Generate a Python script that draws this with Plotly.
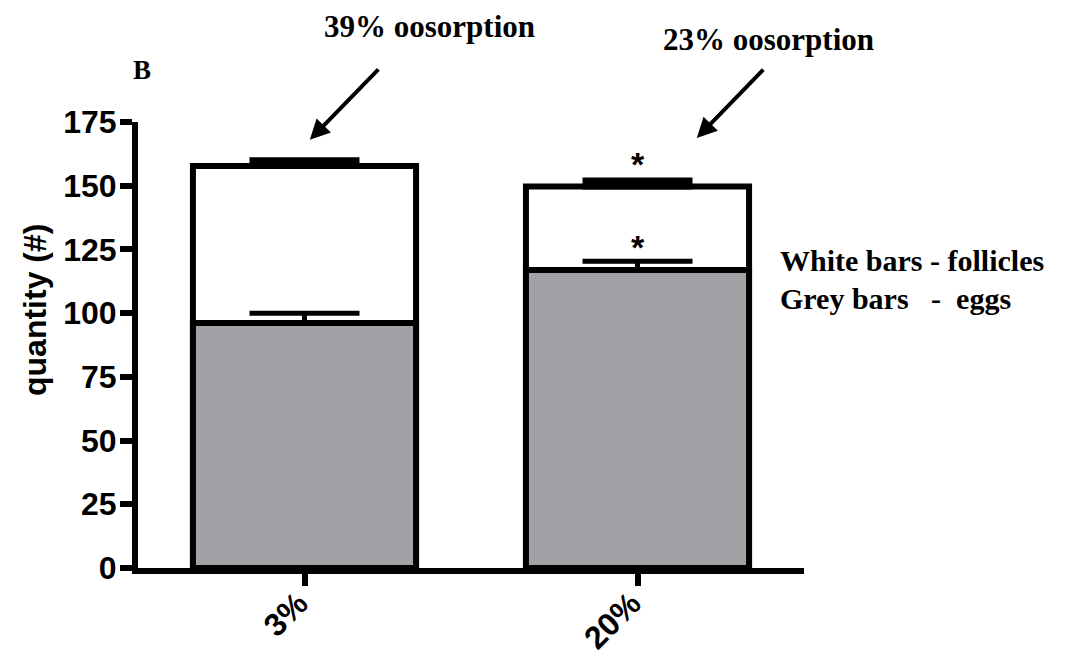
import plotly.graph_objects as go

categories = ["3%", "20%"]
follicles = [157.7, 149.7]
follicles_err = [2.3, 2.3]
eggs = [96.1, 116.9]
eggs_err = [3.9, 3.5]
y_ticks = [0, 25, 50, 75, 100, 125, 150, 175]
star_values = [161.5, 129.0]

SERIF = "Liberation Serif"
SANS = "Liberation Sans"

fig = go.Figure()
fig.add_trace(go.Bar(
    x=categories, y=follicles, width=0.67,
    marker=dict(color="white", line=dict(color="black", width=6)),
    error_y=dict(type="data", array=follicles_err, arrayminus=[0, 0], symmetric=False,
                 color="black", thickness=6, width=55),
    name="follicles", showlegend=False,
))
fig.add_trace(go.Bar(
    x=categories, y=eggs, width=0.67,
    marker=dict(color="#a2a1a6", line=dict(color="black", width=6)),
    error_y=dict(type="data", array=eggs_err, arrayminus=[0, 0], symmetric=False,
                 color="black", thickness=5, width=55),
    name="eggs", showlegend=False,
))

ann = []
for v in star_values:
    ann.append(dict(x=categories[1], y=v, xref="x", yref="y", text="*", showarrow=False,
                    xanchor="center", yanchor="middle", yshift=-8,
                    font=dict(family=SANS, size=34, color="black", weight="bold")))

def txt(x, y, text, family, size, xanchor="center", angle=0):
    return dict(x=x, y=y, xref="paper", yref="paper", text=text, showarrow=False,
                xanchor=xanchor, yanchor="middle", textangle=angle,
                font=dict(family=family, size=size, color="black", weight="bold"))

ann += [
    txt(0.437, 1.215, "39% oosorption", SERIF, 31),
    txt(0.947, 1.184, "23% oosorption", SERIF, 31),
    txt(0.006, 1.117, "B", SERIF, 27),
    txt(0.961, 0.69, "White bars - follicles", SERIF, 30, xanchor="left"),
    txt(0.961, 0.605, "Grey bars &nbsp; - &nbsp;eggs", SERIF, 30, xanchor="left"),
    txt(-0.155, 0.578, "quantity (#)", SANS, 32, angle=-90),
    dict(x=0.258, y=0.96, xref="paper", yref="paper", text="", showarrow=True, ax=70, ay=-72,
         arrowhead=2, arrowsize=1, arrowwidth=4, arrowcolor="black"),
    dict(x=0.839, y=0.964, xref="paper", yref="paper", text="", showarrow=True, ax=68, ay=-70,
         arrowhead=2, arrowsize=1, arrowwidth=4, arrowcolor="black"),
]

fig.update_layout(
    barmode="overlay",
    width=1069, height=658,
    margin=dict(l=138, r=265, t=122, b=90),
    paper_bgcolor="white", plot_bgcolor="white",
    annotations=ann,
    xaxis=dict(range=[-0.5, 1.5], showline=True, linecolor="black", linewidth=6,
               ticks="outside", ticklen=12, tickwidth=6, tickcolor="black",
               tickangle=-45, showgrid=False, zeroline=False, automargin=False,
               ticklabelstandoff=-14, ticklabelshift=-6,
               tickfont=dict(family=SANS, size=32, color="black", weight="bold")),
    yaxis=dict(range=[0, 175], tickvals=y_ticks, showline=True, linecolor="black", linewidth=6,
               ticks="outside", ticklen=12, tickwidth=6, tickcolor="black",
               showgrid=False, zeroline=False, automargin=False,
               ticklabelstandoff=-3,
               tickfont=dict(family=SANS, size=32, color="black", weight="bold")),
)

fig.write_html("out.html")
